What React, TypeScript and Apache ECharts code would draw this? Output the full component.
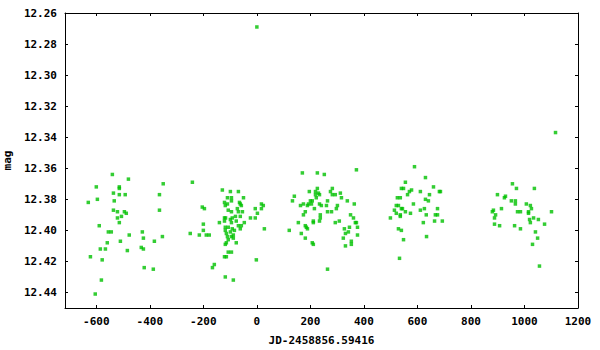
import React, { useEffect, useRef } from "react";
import * as echarts from "echarts";

// [JD offset, mag] per observing season
const season1: [number, number][] = [
  [-540, 12.364], [-480, 12.367], [-350, 12.37], [-600, 12.372], [-514, 12.372], [-514, 12.373],
  [-536, 12.376], [-514, 12.377], [-492, 12.377], [-364, 12.377], [-630, 12.382], [-596, 12.38],
  [-533, 12.381], [-536, 12.387], [-521, 12.388], [-495, 12.388], [-488, 12.389], [-364, 12.387],
  [-506, 12.391], [-521, 12.392], [-514, 12.395], [-589, 12.397], [-555, 12.401], [-544, 12.401],
  [-428, 12.401], [-477, 12.403], [-424, 12.405], [-353, 12.404], [-559, 12.408], [-510, 12.407],
  [-383, 12.407], [-585, 12.412], [-566, 12.412], [-484, 12.413], [-432, 12.411], [-424, 12.412],
  [-622, 12.417], [-578, 12.419], [-421, 12.424], [-387, 12.425], [-581, 12.432], [-604, 12.441],
];

const season2: [number, number][] = [
  [-241, 12.369], [-129, 12.374], [-99, 12.375], [-69, 12.375], [-95, 12.379], [-110, 12.379],
  [-50, 12.379], [-121, 12.382], [-95, 12.381], [-65, 12.382], [-118, 12.384], [-110, 12.383],
  [-62, 12.383], [-58, 12.384], [17, 12.383], [24, 12.384], [-204, 12.385], [-196, 12.386],
  [-107, 12.387], [-95, 12.388], [-73, 12.386], [-69, 12.388], [-54, 12.388], [-6, 12.386],
  [17, 12.386], [2, 12.389], [-121, 12.392], [-117, 12.392], [-80, 12.391], [-62, 12.391],
  [-24, 12.392], [-6, 12.392], [-99, 12.393], [-92, 12.392], [-121, 12.394], [-77, 12.394],
  [-140, 12.395], [-95, 12.395], [-69, 12.397], [-58, 12.397], [-47, 12.395], [-62, 12.399],
  [-200, 12.396], [-118, 12.398], [-107, 12.398], [-92, 12.399], [-118, 12.4], [-84, 12.4],
  [28, 12.399], [-200, 12.4], [-249, 12.402], [-215, 12.403], [-189, 12.403], [-178, 12.403],
  [-114, 12.402], [-99, 12.401], [-110, 12.404], [-88, 12.403], [-107, 12.406], [-95, 12.404],
  [-88, 12.405], [-77, 12.408], [-118, 12.409], [-114, 12.408], [-107, 12.414], [-95, 12.414],
  [-121, 12.417], [-114, 12.417], [-2, 12.419], [-159, 12.422], [-166, 12.424], [-118, 12.43],
  [-88, 12.432], [0, 12.269],
];

const season3: [number, number][] = [
  [170, 12.363], [226, 12.363], [252, 12.364], [372, 12.361], [226, 12.373], [282, 12.373],
  [196, 12.375], [219, 12.375], [230, 12.376], [275, 12.375], [312, 12.376], [219, 12.377],
  [234, 12.377], [282, 12.377], [293, 12.377], [140, 12.378], [222, 12.379], [316, 12.379],
  [133, 12.381], [200, 12.381], [207, 12.381], [264, 12.381], [338, 12.381], [174, 12.383],
  [193, 12.383], [204, 12.383], [364, 12.383], [163, 12.384], [189, 12.384], [234, 12.383],
  [241, 12.384], [260, 12.384], [301, 12.384], [215, 12.386], [297, 12.386], [264, 12.388],
  [279, 12.388], [181, 12.388], [174, 12.39], [237, 12.39], [350, 12.39], [361, 12.392],
  [237, 12.392], [234, 12.394], [211, 12.394], [211, 12.395], [293, 12.395], [308, 12.394],
  [368, 12.395], [372, 12.395], [155, 12.395], [181, 12.397], [185, 12.398], [189, 12.399],
  [346, 12.398], [376, 12.398], [327, 12.399], [342, 12.401], [121, 12.4], [331, 12.402],
  [166, 12.402], [376, 12.403], [181, 12.405], [323, 12.405], [353, 12.407], [353, 12.409],
  [331, 12.41], [207, 12.408], [211, 12.409], [264, 12.425],
];

const season4: [number, number][] = [
  [589, 12.359], [630, 12.366], [555, 12.369], [660, 12.372], [540, 12.373], [548, 12.373],
  [578, 12.374], [570, 12.375], [611, 12.375], [682, 12.375], [686, 12.375], [563, 12.377],
  [645, 12.377], [525, 12.379], [536, 12.379], [630, 12.38], [641, 12.381], [585, 12.383],
  [521, 12.384], [529, 12.384], [540, 12.386], [544, 12.386], [626, 12.386], [675, 12.386],
  [514, 12.387], [555, 12.388], [611, 12.387], [521, 12.389], [574, 12.389], [633, 12.39],
  [667, 12.39], [675, 12.39], [536, 12.39], [536, 12.391], [499, 12.392], [664, 12.394],
  [693, 12.394], [622, 12.395], [529, 12.399], [540, 12.4], [634, 12.404], [548, 12.406],
  [533, 12.418],
];

const season5: [number, number][] = [
  [1116, 12.337], [955, 12.37], [970, 12.373], [1037, 12.373], [899, 12.377], [925, 12.379],
  [929, 12.378], [951, 12.381], [966, 12.381], [966, 12.383], [1007, 12.383], [1022, 12.384],
  [1026, 12.386], [914, 12.386], [884, 12.387], [880, 12.388], [974, 12.388], [985, 12.388],
  [1015, 12.388], [1015, 12.389], [1101, 12.388], [892, 12.39], [1034, 12.392], [888, 12.392],
  [1019, 12.393], [1052, 12.393], [1022, 12.395], [888, 12.396], [907, 12.397], [963, 12.397],
  [1075, 12.396], [985, 12.399], [1041, 12.401], [1049, 12.405], [1030, 12.409], [1056, 12.423],
];

const xTicks = [-600, -400, -200, 0, 200, 400, 600, 800, 1000, 1200];
const yTicks = [12.26, 12.28, 12.3, 12.32, 12.34, 12.36, 12.38, 12.4, 12.42, 12.44];

const FONT = "'DejaVu Sans Mono', 'Liberation Mono', monospace";

export default function App() {
  const ref = useRef<HTMLDivElement>(null);
  useEffect(() => {
    if (!ref.current) return;
    const chart = echarts.init(ref.current, undefined, { renderer: "svg" });
    const line = { show: true, onZero: false, lineStyle: { color: "#000", width: 1 } };
    const label = { fontFamily: FONT, fontWeight: "bold" as const, fontSize: 11, color: "#000" };
    const xBase = { type: "value" as const, min: -717, max: 1200, splitLine: { show: false }, axisLine: line };
    const yBase = { type: "value" as const, min: 12.26, max: 12.45, inverse: true, splitLine: { show: false }, axisLine: line };
    const tick = (vals: number[]) => ({ show: true, inside: true, length: 3, customValues: vals, lineStyle: { color: "#000", width: 1 } });
    chart.setOption({
      animation: false,
      backgroundColor: "#fff",
      grid: { left: 65, right: 22, top: 13, bottom: 42, containLabel: false, outerBoundsMode: "none" },
      xAxis: [
        {
          ...xBase,
          position: "bottom",
          axisTick: tick(xTicks),
          axisLabel: { ...label, customValues: xTicks, margin: 8, formatter: (v: number) => String(v) },
          name: "JD-2458856.59416",
          nameLocation: "middle",
          nameGap: 27,
          nameTextStyle: { ...label },
        },
        { ...xBase, position: "top", axisTick: tick(xTicks), axisLabel: { show: false } },
      ],
      yAxis: [
        {
          ...yBase,
          position: "left",
          axisTick: tick(yTicks),
          axisLabel: { ...label, customValues: yTicks, margin: 8, formatter: (v: number) => v.toFixed(2) },
          name: "mag",
          nameLocation: "middle",
          nameGap: 46,
          nameTextStyle: { ...label },
        },
        { ...yBase, position: "right", axisTick: tick(yTicks), axisLabel: { show: false } },
      ],
      series: [
        {
          type: "scatter",
          xAxisIndex: 0,
          yAxisIndex: 0,
          symbol: "rect",
          symbolSize: 3.5,
          itemStyle: { color: "#00c000" },
          data: [...season1, ...season2, ...season3, ...season4, ...season5],
        },
      ],
    });
    return () => chart.dispose();
  }, []);
  return <div ref={ref} style={{ position: "absolute", left: 0, top: 0, width: 600, height: 350 }} />;
}
